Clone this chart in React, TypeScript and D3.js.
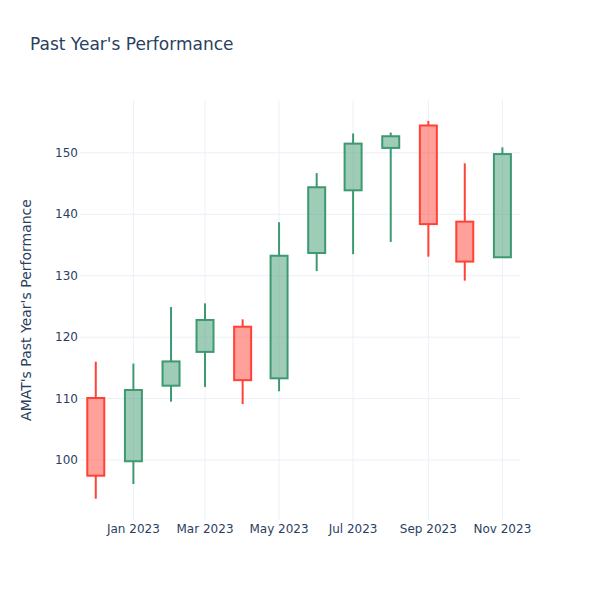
import React from "react";
import * as d3 from "d3";

const dates = [
  "2022-12-01", "2023-01-01", "2023-02-01", "2023-03-01", "2023-04-01", "2023-05-01",
  "2023-06-01", "2023-07-01", "2023-08-01", "2023-09-01", "2023-10-01", "2023-11-01",
];
const opens = [110.1, 99.8, 112.1, 117.6, 121.7, 113.3, 133.7, 143.9, 150.8, 154.45, 138.8, 133.0];
const highs = [116.0, 115.7, 124.9, 125.5, 122.9, 138.7, 146.7, 153.15, 153.3, 155.2, 148.3, 150.9];
const lows = [93.7, 96.1, 109.5, 111.9, 109.1, 111.2, 130.75, 133.5, 135.5, 133.1, 129.2, 132.9];
const closes = [97.45, 111.4, 116.05, 122.8, 113.0, 133.25, 144.4, 151.5, 152.7, 138.4, 132.3, 149.8];
const yTicks = [100, 110, 120, 130, 140, 150];

const W = 600, H = 600;
const M = { l: 80, r: 80, t: 100, b: 80 };
const INC = "#3D9970", DEC = "#FF4136";
const FONT = '"DejaVu Sans", verdana, arial, sans-serif';
const TXT = "#2a3f5f", GRID = "#EBF0F8";

export default function App() {
  const parse = d3.timeParse("%Y-%m-%d");
  const x = d3.scaleTime()
    .domain([new Date(2022, 10, 18), new Date(2023, 10, 15, 12)])
    .range([M.l, W - M.r]);
  const y = d3.scaleLinear().domain([90.24, 158.6]).range([H - M.b, M.t]);
  const xTicks = x.ticks(d3.timeMonth.every(2) as any);
  const fmt = d3.timeFormat("%b %Y");
  const halfDays = 7;

  return (
    <svg width={W} height={H} style={{ position: "fixed", left: 0, top: 0, background: "#fff" }} fontFamily={FONT}>
      <rect width={W} height={H} fill="#fff" />
      {yTicks.map((t) => (
        <line key={"gy" + t} x1={M.l} x2={W - M.r} y1={y(t)} y2={y(t)} stroke={GRID} strokeWidth={1} />
      ))}
      {xTicks.map((t, i) => (
        <line key={"gx" + i} x1={x(t)} x2={x(t)} y1={M.t} y2={H - M.b} stroke={GRID} strokeWidth={1} />
      ))}
      {dates.map((ds, i) => {
        const d = parse(ds) as Date;
        const cx = x(d);
        const x0 = x(d3.timeDay.offset(d, -halfDays));
        const x1 = x(d3.timeDay.offset(d, halfDays));
        const o = opens[i], c = closes[i];
        const col = c >= o ? INC : DEC;
        const top = y(Math.max(o, c)), bot = y(Math.min(o, c));
        return (
          <g key={ds}>
            <line x1={cx} x2={cx} y1={y(highs[i])} y2={top} stroke={col} strokeWidth={2} />
            <line x1={cx} x2={cx} y1={bot} y2={y(lows[i])} stroke={col} strokeWidth={2} />
            <rect x={x0} y={top} width={x1 - x0} height={bot - top} fill={col} fillOpacity={0.5} stroke={col} strokeWidth={2} />
          </g>
        );
      })}
      {yTicks.map((t) => (
        <text key={"ty" + t} x={M.l - 2} y={y(t) + 4} textAnchor="end" fontSize={12} fill={TXT}>{t}</text>
      ))}
      {xTicks.map((t, i) => (
        <text key={"tx" + i} x={x(t)} y={533} textAnchor="middle" fontSize={12} fill={TXT}>{fmt(t)}</text>
      ))}
      <text x={30} y={50} fontSize={17} fill={TXT}>Past Year's Performance</text>
      <text transform={`translate(31,${(M.t + H - M.b) / 2}) rotate(-90)`} textAnchor="middle" fontSize={14} fill={TXT}>
        AMAT's Past Year's Performance
      </text>
    </svg>
  );
}
